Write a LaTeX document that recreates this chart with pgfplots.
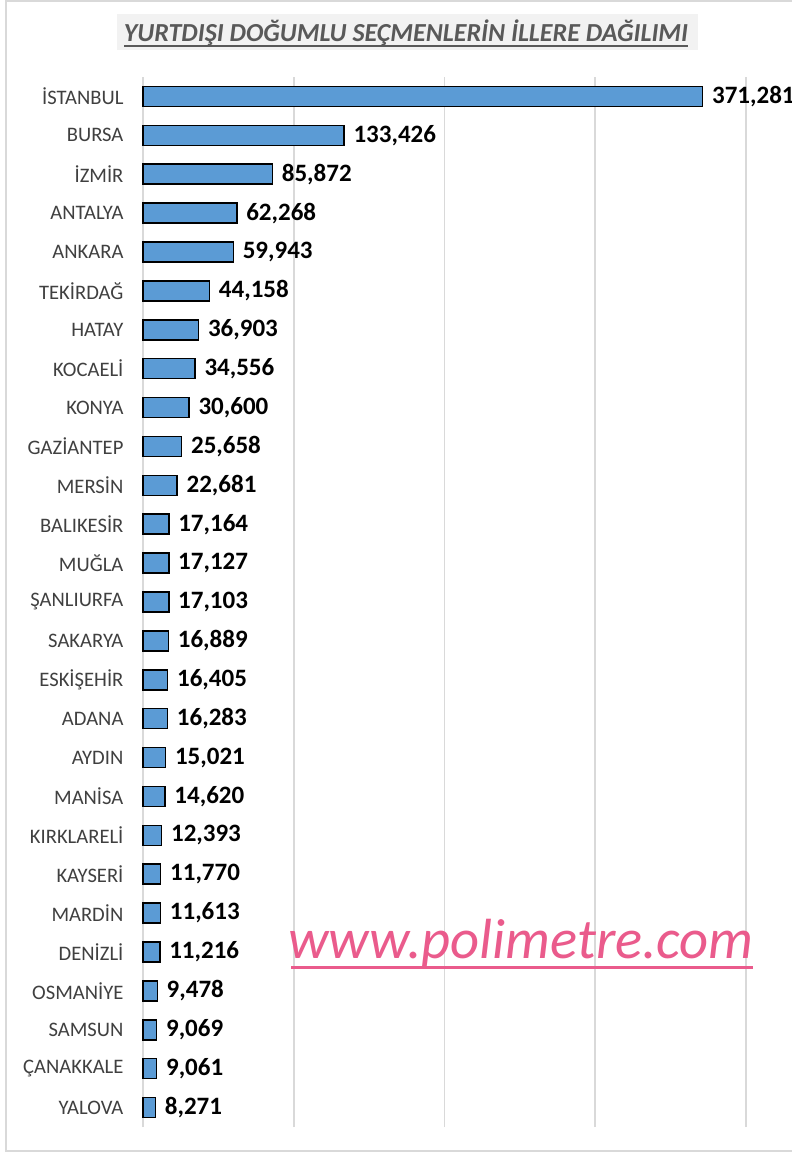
\documentclass[border=0pt]{standalone}
\usepackage{pgfplots}
\pgfplotsset{compat=1.18}
\usepackage{fontspec}
\setmainfont{Carlito}
\definecolor{barblue}{HTML}{5B9BD5}
\definecolor{gridgray}{HTML}{D9D9D9}
\definecolor{titlegray}{HTML}{595959}
\definecolor{titlebg}{HTML}{F2F2F2}
\definecolor{wm}{HTML}{EA5B8C}
\definecolor{labgray}{HTML}{404040}
% pos 26 = top (İSTANBUL), pos 0 = bottom (YALOVA)
\pgfplotstableread{
pos value
26 371281
25 133426
24 85872
23 62268
22 59943
21 44158
20 36903
19 34556
18 30600
17 25658
16 22681
15 17164
14 17127
13 17103
12 16889
11 16405
10 16283
9 15021
8 14620
7 12393
6 11770
5 11613
4 11216
3 9478
2 9069
1 9061
0 8271
}\datatable
\begin{document}
\begin{tikzpicture}
% picture frame: 792 x 1153 px at 0.5pt per px
\path[use as bounding box] (0pt,0pt) rectangle (396pt,576.5pt);
\fill[white] (0pt,0pt) rectangle (396pt,576.5pt);
\draw[gridgray, line width=1.2pt] (3pt,1pt) rectangle (400pt,576pt);
% title
\fill[titlebg] (58.5pt,551.5pt) rectangle (349pt,569.5pt);
\node[font=\fontsize{13}{15}\selectfont\bfseries\itshape, text=titlegray, inner sep=0pt] at (203pt,560pt) {YURTDIŞI DOĞUMLU SEÇMENLERİN İLLERE DAĞILIMI};
\draw[titlegray, line width=0.9pt] (62pt,553.5pt) -- (344pt,553.5pt);
\begin{axis}[
  at={(71.5pt,13pt)}, anchor=south west,
  scale only axis, width=301.5pt, height=525pt,
  xmin=0, xmax=400000, ymin=-0.5, ymax=26.5,
  xbar, bar width=10pt,
  xtick={0,100000,200000,300000,400000}, xticklabels={}, scaled x ticks=false,
  xmajorgrids, grid style={gridgray, line width=0.8pt},
  axis line style={draw=none}, tick style={draw=none},
  ytick={0,...,26},
  yticklabels={YALOVA,ÇANAKKALE,SAMSUN,OSMANİYE,DENİZLİ,MARDİN,KAYSERİ,KIRKLARELİ,MANİSA,AYDIN,ADANA,ESKİŞEHİR,SAKARYA,ŞANLIURFA,MUĞLA,BALIKESİR,MERSİN,GAZİANTEP,KONYA,KOCAELİ,HATAY,TEKİRDAĞ,ANKARA,ANTALYA,İZMİR,BURSA,İSTANBUL},
  yticklabel style={font=\fontsize{10.3}{12}\selectfont, text=labgray, xshift=-2pt},
  nodes near coords,
  nodes near coords style={font=\fontsize{12.5}{14}\selectfont\bfseries, text=black, xshift=1pt,
    /pgf/number format/.cd, fixed, precision=0, 1000 sep={,}, assume math mode=true},
  clip=false,
]
\addplot[fill=barblue, draw=black, line width=0.75pt] table[x=value, y=pos] {\datatable};
\end{axis}
% watermark
\node[font=\fontsize{28.3}{30}\selectfont\itshape, text=wm, inner sep=0pt] at (260.5pt,105pt) {www.polimetre.com};
\draw[wm, line width=1.5pt] (145.5pt,92.5pt) -- (376.5pt,92.5pt);
\end{tikzpicture}
\end{document}
